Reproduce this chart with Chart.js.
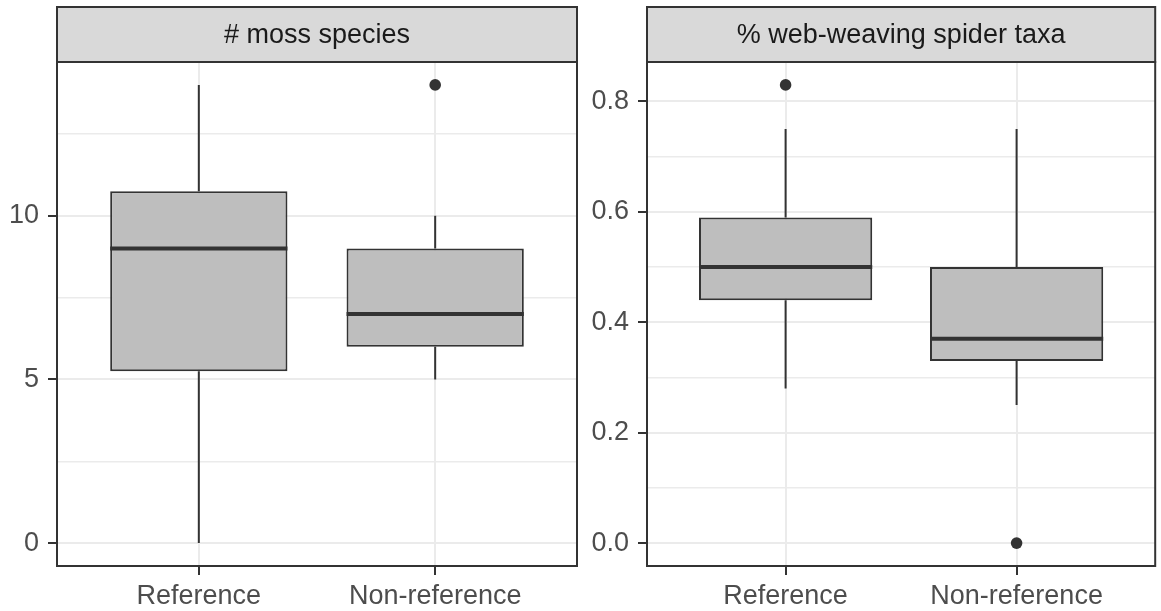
<!DOCTYPE html>
<html>
<head>
<meta charset="utf-8">
<script src="https://cdn.jsdelivr.net/npm/chart.js@4.4.1/dist/chart.umd.min.js"></script>
<style>
  html, body { margin: 0; padding: 0; background: #fff; overflow: hidden; }
  #wrap { position: relative; width: 1161px; height: 611px; overflow: hidden; }
  .panel { position: absolute; top: 0; }
  #left { left: 0; }
  #right { left: 585px; }
</style>
</head>
<body>
<div id="wrap">
  <div class="panel" id="left"><canvas id="moss" width="585" height="611"></canvas></div>
  <div class="panel" id="right"><canvas id="spider" width="576" height="611"></canvas></div>
</div>
<script>
const categories = ["Reference", "Non-reference"];

// # moss species
const mossLow = [0, 5];
const mossQ1 = [5.25, 6];
const mossMedian = [9, 7];
const mossQ3 = [10.75, 9];
const mossHigh = [14, 10];
const mossOutliers = [[], [14]];
const mossTicks = [0, 2.5, 5, 7.5, 10, 12.5];
const mossTickLabels = ["0", "", "5", "", "10", ""];

// % web-weaving spider taxa
const spiderLow = [0.28, 0.25];
const spiderQ1 = [0.44, 0.33];
const spiderMedian = [0.5, 0.37];
const spiderQ3 = [0.59, 0.5];
const spiderHigh = [0.75, 0.75];
const spiderOutliers = [[0.83], [0]];
const spiderTicks = [0, 0.1, 0.2, 0.3, 0.4, 0.5, 0.6, 0.7, 0.8];
const spiderTickLabels = ["0.0", "", "0.2", "", "0.4", "", "0.6", "", "0.8"];

const FONT = '"Liberation Sans", Arial, sans-serif';
const BOX_W = 0.75;

// strip on top of the panel + panel border
const stripPlugin = {
  id: "strip",
  beforeDraw(chart, args, opts) {
    const { ctx, chartArea: a } = chart;
    ctx.save();
    ctx.fillStyle = "#D9D9D9";
    ctx.fillRect(a.left, 7, a.right - a.left, a.top - 7);
    ctx.strokeStyle = "#333333";
    ctx.lineWidth = 2;
    ctx.strokeRect(a.left, 7, a.right - a.left, a.top - 7);
    ctx.fillStyle = "#1A1A1A";
    ctx.font = "27px " + FONT;
    ctx.textAlign = "center";
    ctx.textBaseline = "middle";
    ctx.fillText(opts.text, (a.left + a.right) / 2, (7 + a.top) / 2 + 1);
    ctx.restore();
  },
  afterDatasetsDraw(chart) {
    const { ctx, chartArea: a } = chart;
    ctx.save();
    ctx.strokeStyle = "#333333";
    ctx.lineWidth = 2;
    ctx.strokeRect(a.left, a.top, a.right - a.left, a.bottom - a.top);
    ctx.restore();
  },
};

function boxChart(id, title, low, q1, med, q3, high, outliers, ticks, tickLabels, axisWidth, padRight) {
  const all = low.concat(high, outliers.flat());
  const lo = Math.min(...all);
  const hi = Math.max(...all);
  const pad = (hi - lo) * 0.05;

  const boxes = categories.map((c, i) => ({ x: i + 1, y: [q1[i], q3[i]] }));
  const whiskers = [];
  const medians = [];
  const points = [];
  categories.forEach((c, i) => {
    whiskers.push({ x: i + 1, y: q3[i] }, { x: i + 1, y: high[i] }, { x: i + 1, y: null });
    whiskers.push({ x: i + 1, y: low[i] }, { x: i + 1, y: q1[i] }, { x: i + 1, y: null });
    medians.push({ x: i + 1 - BOX_W / 2, y: med[i] }, { x: i + 1 + BOX_W / 2, y: med[i] }, { x: i + 1, y: null });
    outliers[i].forEach((v) => points.push({ x: i + 1, y: v }));
  });

  const isMajor = (i) => tickLabels[i] !== "";

  return new Chart(document.getElementById(id), {
    type: "bar",
    data: {
      datasets: [
        {
          type: "bar",
          data: boxes,
          backgroundColor: "#BEBEBE",
          borderColor: "#333333",
          borderWidth: 2,
          borderSkipped: false,
          barPercentage: BOX_W,
          categoryPercentage: 1,
          order: 3,
        },
        {
          type: "line",
          data: whiskers,
          borderColor: "#333333",
          borderWidth: 2,
          pointRadius: 0,
          spanGaps: false,
          order: 4,
        },
        {
          type: "line",
          data: medians,
          borderColor: "#333333",
          borderWidth: 4,
          pointRadius: 0,
          spanGaps: false,
          order: 1,
        },
        {
          type: "scatter",
          data: points,
          backgroundColor: "#333333",
          borderWidth: 0,
          pointRadius: 5.8,
          order: 0,
        },
      ],
    },
    options: {
      responsive: false,
      animation: false,
      layout: { padding: { top: 62, right: padRight, bottom: 0, left: 0 } },
      plugins: {
        legend: { display: false },
        tooltip: { enabled: false },
        strip: { text: title },
      },
      scales: {
        x: {
          type: "linear",
          min: 0.4,
          max: 2.6,
          offset: false,
          afterBuildTicks: (s) => { s.ticks = categories.map((c, i) => ({ value: i + 1 })); },
          afterFit: (s) => { s.height = 45; },
          grid: { offset: false, color: "#EBEBEB", lineWidth: 2, tickColor: "#333333", tickLength: 9, tickWidth: 2 },
          border: { display: false },
          ticks: {
            autoSkip: false,
            maxRotation: 0,
            padding: 5,
            color: "#4D4D4D",
            font: { family: FONT, size: 27 },
            callback: (v) => categories[Math.round(v) - 1],
          },
        },
        y: {
          type: "linear",
          min: lo - pad,
          max: hi + pad,
          afterBuildTicks: (s) => { s.ticks = ticks.map((v) => ({ value: v })); },
          afterFit: (s) => { s.width = axisWidth; },
          grid: {
            color: "#EBEBEB",
            lineWidth: (c) => (isMajor(c.index) ? 2 : 1.5),
            tickColor: (c) => (isMajor(c.index) ? "#333333" : "rgba(0,0,0,0)"),
            tickLength: 9,
            tickWidth: 2,
          },
          border: { display: false },
          ticks: {
            autoSkip: false,
            padding: 9,
            color: "#4D4D4D",
            font: { family: FONT, size: 27 },
            callback: (v, i) => tickLabels[i],
          },
        },
      },
    },
    plugins: [stripPlugin],
  });
}

boxChart("moss", "# moss species", mossLow, mossQ1, mossMedian, mossQ3, mossHigh, mossOutliers,
  mossTicks, mossTickLabels, 57, 8);
boxChart("spider", "% web-weaving spider taxa", spiderLow, spiderQ1, spiderMedian, spiderQ3, spiderHigh, spiderOutliers,
  spiderTicks, spiderTickLabels, 62, 1);
</script>
</body>
</html>
